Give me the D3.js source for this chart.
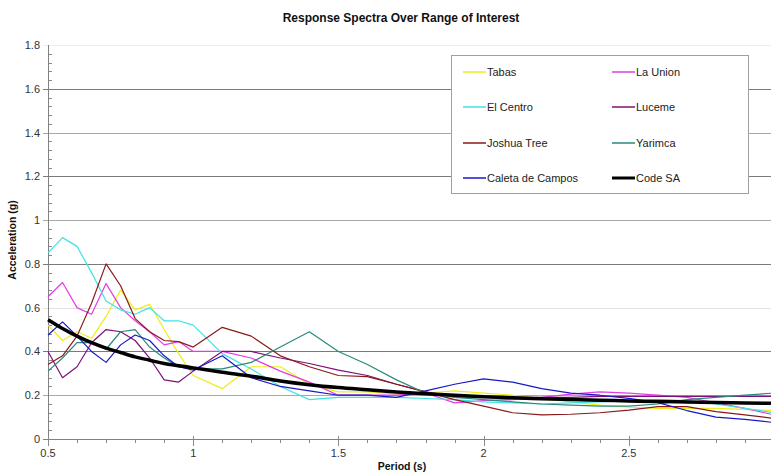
<!DOCTYPE html>
<html>
<head>
<meta charset="utf-8">
<script src="https://cdn.jsdelivr.net/npm/d3@7"></script>
<style>
  body { margin: 0; background: #fff; }
  svg { display: block; font-family: "Liberation Sans", Arial, sans-serif; }
</style>
</head>
<body>
<div id="chart"></div>
<script>
// --- Data ---
const periods = [0.5, 0.55, 0.6, 0.65, 0.7, 0.75, 0.8, 0.85, 0.9, 0.95, 1.0,
  1.1, 1.2, 1.3, 1.4, 1.5, 1.6, 1.7, 1.8, 1.9, 2.0, 2.1, 2.2, 2.3, 2.4, 2.5, 2.6, 2.7, 2.8, 2.9, 3.0];

const tabas = [0.52, 0.45, 0.49, 0.46, 0.56, 0.68, 0.59, 0.615, 0.50, 0.39, 0.29,
  0.23, 0.33, 0.33, 0.25, 0.215, 0.215, 0.205, 0.21, 0.22, 0.21, 0.20, 0.185, 0.17, 0.155, 0.145, 0.14, 0.14, 0.14, 0.135, 0.13];
const laUnion = [0.65, 0.715, 0.60, 0.57, 0.71, 0.60, 0.54, 0.49, 0.43, 0.445, 0.40,
  0.40, 0.37, 0.31, 0.26, 0.20, 0.20, 0.20, 0.21, 0.165, 0.175, 0.18, 0.19, 0.205, 0.215, 0.21, 0.20, 0.19, 0.165, 0.14, 0.11];
const elCentro = [0.85, 0.92, 0.88, 0.76, 0.63, 0.59, 0.57, 0.60, 0.54, 0.54, 0.52,
  0.39, 0.32, 0.24, 0.18, 0.19, 0.19, 0.19, 0.185, 0.18, 0.17, 0.165, 0.16, 0.165, 0.17, 0.175, 0.18, 0.175, 0.16, 0.14, 0.12];
const luceme = [0.40, 0.28, 0.33, 0.44, 0.50, 0.49, 0.45, 0.37, 0.27, 0.26, 0.31,
  0.40, 0.40, 0.37, 0.345, 0.315, 0.29, 0.25, 0.215, 0.195, 0.19, 0.19, 0.19, 0.19, 0.195, 0.195, 0.195, 0.195, 0.195, 0.195, 0.195];
const joshuaTree = [0.34, 0.38, 0.47, 0.62, 0.80, 0.70, 0.55, 0.49, 0.45, 0.445, 0.42,
  0.51, 0.47, 0.38, 0.33, 0.29, 0.285, 0.25, 0.215, 0.18, 0.15, 0.12, 0.11, 0.113, 0.12, 0.132, 0.148, 0.148, 0.125, 0.11, 0.094];
const yarimca = [0.31, 0.37, 0.44, 0.44, 0.41, 0.49, 0.50, 0.42, 0.37, 0.33, 0.32,
  0.32, 0.35, 0.42, 0.49, 0.40, 0.34, 0.27, 0.21, 0.19, 0.18, 0.17, 0.16, 0.155, 0.15, 0.15, 0.16, 0.18, 0.19, 0.20, 0.21];
const caleta = [0.475, 0.535, 0.47, 0.40, 0.35, 0.43, 0.475, 0.45, 0.38, 0.33, 0.315,
  0.38, 0.28, 0.24, 0.22, 0.20, 0.20, 0.19, 0.22, 0.25, 0.275, 0.26, 0.23, 0.21, 0.20, 0.186, 0.166, 0.13, 0.10, 0.09, 0.075];
const codeSA = [0.545, 0.505, 0.47, 0.44, 0.415, 0.395, 0.375, 0.36, 0.345, 0.335, 0.325,
  0.305, 0.287, 0.265, 0.248, 0.235, 0.225, 0.215, 0.207, 0.2, 0.193, 0.188, 0.184, 0.18, 0.177, 0.174, 0.171, 0.169, 0.167, 0.165, 0.163];

const seriesNames = ["Tabas", "La Union", "El Centro", "Luceme", "Joshua Tree", "Yarimca", "Caleta de Campos", "Code SA"];
const seriesValues = [tabas, laUnion, elCentro, luceme, joshuaTree, yarimca, caleta, codeSA];
const seriesColors = ["#eded1c", "#e53be5", "#3fe3e3", "#7f107a", "#8a1a1a", "#2a8a7c", "#1818c8", "#000000"];

const yTicks = [0, 0.2, 0.4, 0.6, 0.8, 1, 1.2, 1.4, 1.6, 1.8];
const xTicks = [0.5, 1, 1.5, 2, 2.5, 3];

// --- Layout ---
const W = 771, H = 472;
const plot = { left: 48, right: 774, top: 45, bottom: 439 };

const x = d3.scaleLinear().domain([0.5, 3]).range([plot.left, plot.right]);
const y = d3.scaleLinear().domain([0, 1.8]).range([plot.bottom, plot.top]);

const svg = d3.select("#chart").append("svg")
  .attr("width", W).attr("height", H);

// gridlines (shade varies like the scaled reference)
const gridShade = { 0.2: "#a8a8a8", 0.4: "#7a7a7a", 0.6: "#e2e2e2", 0.8: "#7a7a7a", 1: "#a8a8a8",
  1.2: "#7a7a7a", 1.4: "#a8a8a8", 1.6: "#7a7a7a", 1.8: "#ececec" };
svg.append("g").selectAll("line")
  .data(yTicks.filter(d => d > 0))
  .enter().append("line")
  .attr("x1", plot.left - 5).attr("x2", W)
  .attr("y1", d => Math.round(y(d)) + 0.5).attr("y2", d => Math.round(y(d)) + 0.5)
  .attr("stroke", d => gridShade[d]).attr("stroke-width", 1);

// minor y ticks (inside)
const yMinor = d3.range(0, 46).map(i => i * 0.04).filter(v => Math.abs(v / 0.2 - Math.round(v / 0.2)) > 1e-6);
svg.append("g").selectAll("line")
  .data(yMinor)
  .enter().append("line")
  .attr("x1", plot.left).attr("x2", plot.left + 4)
  .attr("y1", d => Math.round(y(d)) + 0.5).attr("y2", d => Math.round(y(d)) + 0.5)
  .attr("stroke", "#8a8a8a");

// axes lines
svg.append("line")
  .attr("x1", plot.left + 0.5).attr("x2", plot.left + 0.5)
  .attr("y1", plot.top).attr("y2", plot.bottom + 1)
  .attr("stroke", "#808080");
svg.append("line")
  .attr("x1", plot.left - 5).attr("x2", W)
  .attr("y1", plot.bottom + 0.5).attr("y2", plot.bottom + 0.5)
  .attr("stroke", "#808080");
svg.append("line")
  .attr("x1", plot.left - 5).attr("x2", plot.left)
  .attr("y1", plot.bottom + 0.5).attr("y2", plot.bottom + 0.5)
  .attr("stroke", "#808080");

// x ticks
const xMinor = d3.range(5, 31).map(i => i / 10).filter(v => Math.abs(v * 2 - Math.round(v * 2)) > 1e-6);
svg.append("g").selectAll("line")
  .data(xMinor)
  .enter().append("line")
  .attr("x1", d => Math.round(x(d)) + 0.5).attr("x2", d => Math.round(x(d)) + 0.5)
  .attr("y1", plot.bottom).attr("y2", plot.bottom + 4)
  .attr("stroke", "#8a8a8a");
svg.append("g").selectAll("line")
  .data(xTicks)
  .enter().append("line")
  .attr("x1", d => Math.round(x(d)) + 0.5).attr("x2", d => Math.round(x(d)) + 0.5)
  .attr("y1", plot.bottom - 3).attr("y2", plot.bottom + 7)
  .attr("stroke", "#8a8a8a");

// tick labels
svg.append("g").selectAll("text")
  .data(yTicks)
  .enter().append("text")
  .attr("x", 40).attr("y", d => y(d) + 4)
  .attr("text-anchor", "end")
  .attr("font-size", 11).attr("fill", "#333")
  .text(d => String(+d.toFixed(1)));

svg.append("g").selectAll("text")
  .data(xTicks.filter(d => d < 3))
  .enter().append("text")
  .attr("x", d => x(d)).attr("y", 457)
  .attr("text-anchor", "middle")
  .attr("font-size", 11).attr("fill", "#333")
  .text(d => String(d));

// titles
svg.append("text")
  .attr("x", 401).attr("y", 22)
  .attr("text-anchor", "middle")
  .attr("font-size", 12).attr("font-weight", "bold").attr("fill", "#111")
  .text("Response Spectra Over Range of Interest");

svg.append("text")
  .attr("transform", "translate(16,240) rotate(-90)")
  .attr("text-anchor", "middle")
  .attr("font-size", 10.5).attr("font-weight", "bold").attr("fill", "#111")
  .text("Acceleration (g)");

svg.append("text")
  .attr("x", 402).attr("y", 470)
  .attr("text-anchor", "middle")
  .attr("font-size", 10.5).attr("font-weight", "bold").attr("fill", "#111")
  .text("Period (s)");

// series lines
const line = d3.line()
  .x((d, i) => x(periods[i]))
  .y(d => y(d));

const gLines = svg.append("g");
seriesValues.forEach((vals, k) => {
  const isCode = seriesNames[k] === "Code SA";
  gLines.append("path")
    .datum(vals)
    .attr("fill", "none")
    .attr("stroke", seriesColors[k])
    .attr("stroke-width", isCode ? 3.5 : 1.2)
    .attr("stroke-linejoin", "round")
    .attr("d", isCode ? line.curve(d3.curveMonotoneX)(vals) : line.curve(d3.curveLinear)(vals));
});

// legend
const legend = svg.append("g");
legend.append("rect")
  .attr("x", 451.5).attr("y", 55.5)
  .attr("width", 297).attr("height", 138)
  .attr("fill", "#fff").attr("stroke", "#a0a0a0");

const legendCols = [463, 612];
const legendRows = [72, 107, 143, 178];
seriesNames.forEach((name, k) => {
  const cx = legendCols[k % 2];
  const cy = legendRows[Math.floor(k / 2)];
  const isCode = name === "Code SA";
  legend.append("line")
    .attr("x1", cx).attr("x2", cx + 23)
    .attr("y1", cy).attr("y2", cy)
    .attr("stroke", seriesColors[k])
    .attr("stroke-width", isCode ? 3 : 1.5);
  legend.append("text")
    .attr("x", cx + 24).attr("y", cy + 4)
    .attr("font-size", 11).attr("fill", "#222")
    .text(name);
});
</script>
</body>
</html>
